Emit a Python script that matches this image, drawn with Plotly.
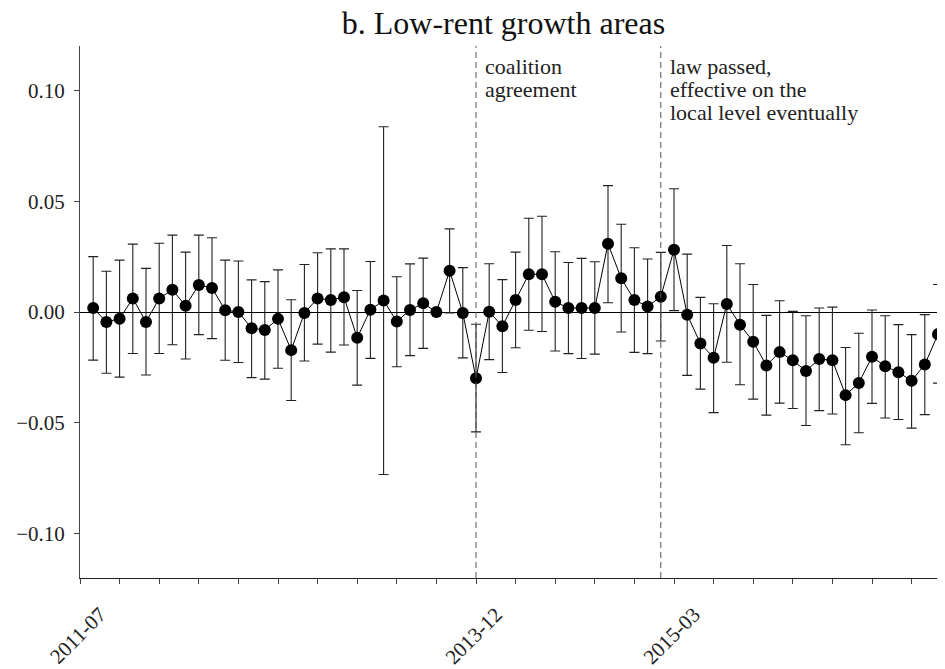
import plotly.graph_objects as go

# monthly estimates, first month sits one step right of the 2011-07 tick
estimate = [
    0.0018, -0.0045, -0.0030, 0.0061, -0.0045, 0.0061, 0.0100, 0.0028, 0.0122, 0.0108,
    0.0008, 0.0000, -0.0073, -0.0081, -0.0031, -0.0172, -0.0004, 0.0061, 0.0054, 0.0067,
    -0.0116, 0.0010, 0.0052, -0.0043, 0.0009, 0.0039, 0.0000, 0.0186, -0.0004, -0.0299,
    0.0001, -0.0064, 0.0054, 0.0170, 0.0170, 0.0046, 0.0018, 0.0018, 0.0018, 0.0308,
    0.0152, 0.0054, 0.0025, 0.0069, 0.0281, -0.0012, -0.0142, -0.0206, 0.0036, -0.0057,
    -0.0134, -0.0241, -0.0181, -0.0218, -0.0266, -0.0212, -0.0218, -0.0375, -0.0320, -0.0202,
    -0.0245, -0.0272, -0.0310, -0.0237, -0.0100,
]
ci_upper = [
    0.0250, 0.0184, 0.0234, 0.0306, 0.0197, 0.0310, 0.0347, 0.0270, 0.0347, 0.0335,
    0.0234, 0.0230, 0.0145, 0.0137, 0.0190, 0.0055, 0.0214, 0.0267, 0.0285, 0.0285,
    0.0097, 0.0228, 0.0836, 0.0159, 0.0217, 0.0243, 0.0000, 0.0375, 0.0200, -0.0055,
    0.0218, 0.0146, 0.0270, 0.0423, 0.0432, 0.0272, 0.0223, 0.0242, 0.0227, 0.0570,
    0.0396, 0.0290, 0.0239, 0.0269, 0.0556, 0.0261, 0.0066, 0.0037, 0.0300, 0.0218,
    0.0124, -0.0015, 0.0051, 0.0003, -0.0017, 0.0018, 0.0022, -0.0160, -0.0096, 0.0009,
    -0.0017, -0.0057, -0.0102, -0.0012, 0.0124,
]
ci_lower = [
    -0.0217, -0.0276, -0.0294, -0.0187, -0.0284, -0.0187, -0.0148, -0.0212, -0.0102, -0.0120,
    -0.0218, -0.0228, -0.0296, -0.0303, -0.0254, -0.0399, -0.0221, -0.0145, -0.0181, -0.0149,
    -0.0330, -0.0209, -0.0733, -0.0247, -0.0197, -0.0164, 0.0000, -0.0004, -0.0207, -0.0541,
    -0.0215, -0.0273, -0.0161, -0.0082, -0.0088, -0.0176, -0.0188, -0.0210, -0.0190, 0.0042,
    -0.0090, -0.0182, -0.0188, -0.0131, 0.0006, -0.0286, -0.0348, -0.0454, -0.0227, -0.0328,
    -0.0393, -0.0465, -0.0411, -0.0435, -0.0512, -0.0445, -0.0460, -0.0599, -0.0545, -0.0412,
    -0.0478, -0.0485, -0.0524, -0.0463, -0.0321,
]
month_idx = list(range(1, len(estimate) + 1))

x_tick_pos = list(range(0, 66, 3))
x_tick_labels = {0: "2011-07", 30: "2013-12", 45: "2015-03"}
y_tick_pos = [-0.10, -0.05, 0.00, 0.05, 0.10]
y_tick_labels = ["\u22120.10", "\u22120.05", "0.00", "0.05", "0.10"]

events = [30, 44]  # coalition agreement, law passed
event_text = [
    ["coalition", "agreement"],
    ["law passed,", "effective on the", "local level eventually"],
]

FONT = "Liberation Serif"
# the page body adds an 8px margin, so the figure is drawn 8px smaller
PAD = 8
W, H = 945 - PAD, 669 - PAD
L, R, T, B = 80 - PAD, 0, 46 - PAD, 87
plot_h = H - T - B

err_plus = [u - e for u, e in zip(ci_upper, estimate)]
err_minus = [e - l for e, l in zip(estimate, ci_lower)]

fig = go.Figure()
fig.add_trace(go.Scatter(
    x=month_idx, y=estimate, mode="lines+markers",
    line=dict(color="black", width=1),
    marker=dict(color="black", size=12),
    error_y=dict(type="data", symmetric=False, array=err_plus, arrayminus=err_minus,
                 color="#222", thickness=1.1, width=5),
    showlegend=False,
))

for ev in events:
    fig.add_shape(type="line", xref="x", yref="paper", x0=ev, x1=ev, y0=0, y1=1,
                  line=dict(color="#555", width=1, dash="6px,4px"))

# one annotation per line so the line spacing stays tight
baselines = [73.3, 96.3, 119.3]
for ev, lines in zip(events, event_text):
    for i, txt in enumerate(lines):
        py = baselines[i] - 6.8 - PAD
        fig.add_annotation(x=ev, xref="x", y=(H - B - py) / plot_h, yref="paper",
                           text=txt, showarrow=False, xanchor="left", yanchor="middle",
                           xshift=7, font=dict(family=FONT, size=22, color="#222"))

fig.update_layout(
    width=W, height=H,
    margin=dict(l=L, r=R, t=T, b=B),
    paper_bgcolor="white", plot_bgcolor="white",
    title=dict(text="b. Low-rent growth areas", x=(503.5 - PAD) / W, xanchor="center",
               y=1 - (22.4 - PAD) / H, yanchor="middle",
               font=dict(family=FONT, size=32, color="#111")),
    font=dict(family=FONT, size=21, color="#222"),
)
fig.update_xaxes(
    range=[0, 65.53], showgrid=False, zeroline=False,
    showline=True, linecolor="#222", linewidth=1,
    tickmode="array", tickvals=x_tick_pos,
    ticktext=[x_tick_labels.get(t, "") for t in x_tick_pos],
    ticks="outside", ticklen=5, tickcolor="#444", tickwidth=1,
    tickangle=-45, ticklabelshift=20, ticklabelstandoff=10,
    tickfont=dict(family=FONT, size=21, color="#222"),
)
fig.update_yaxes(
    range=[-0.12, 0.12], showgrid=False,
    zeroline=True, zerolinecolor="black", zerolinewidth=1,
    showline=True, linecolor="#444", linewidth=1,
    tickmode="array", tickvals=y_tick_pos, ticktext=y_tick_labels,
    ticks="outside", ticklen=5, tickcolor="#444", tickwidth=1,
    ticklabelstandoff=5,
    tickfont=dict(family=FONT, size=21, color="#222"),
)

fig.write_html("out.html")
